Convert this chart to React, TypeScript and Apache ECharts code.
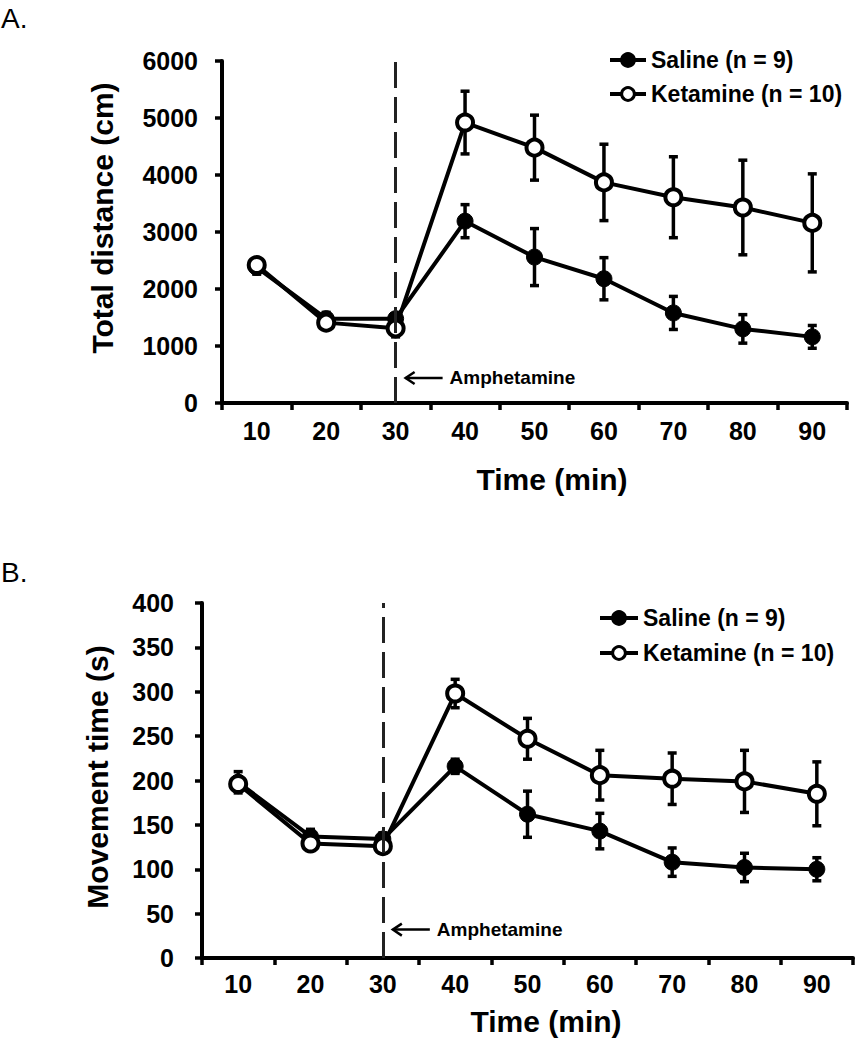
import React, { useEffect, useRef } from "react";
import * as echarts from "echarts";

const timeLabels = ["10", "20", "30", "40", "50", "60", "70", "80", "90"];

const salineDistance = [2380, 1480, 1480, 3190, 2560, 2180, 1580, 1300, 1160];
const salineDistanceErr = [120, 110, 80, 290, 500, 370, 290, 250, 200];
const ketamineDistance = [2420, 1410, 1310, 4920, 4480, 3870, 3610, 3430, 3160];
const ketamineDistanceErr = [90, 70, 150, 550, 570, 670, 710, 830, 860];

const salineMovement = [198, 137, 134, 216, 162, 143, 108, 102, 100];
const salineMovementErr = [12, 8, 7, 8, 26, 20, 16, 16, 13];
const ketamineMovement = [196, 129, 126, 298, 247, 206, 202, 199, 185];
const ketamineMovementErr = [8, 6, 8, 16, 23, 28, 29, 35, 36];

const SALINE = "Saline (n = 9)";
const KETAMINE = "Ketamine (n = 10)";
const FONT = '"Liberation Sans", Arial, Helvetica, sans-serif';

function errorSeries(name: string, grid: number, mean: number[], err: number[]) {
  return {
    type: "custom",
    name: name + " err",
    xAxisIndex: grid,
    yAxisIndex: grid,
    z: 1,
    silent: true,
    data: mean.map((m, i) => [i, m, err[i]]),
    encode: { x: 0, y: 1 },
    renderItem: (params: any, api: any) => {
      const i = api.value(0);
      const m = api.value(1);
      const e = api.value(2);
      const top = api.coord([i, m + e]);
      const bot = api.coord([i, m - e]);
      const cap = 4.5;
      const st = { stroke: "#000", lineWidth: 3.5 };
      return {
        type: "group",
        children: [
          { type: "line", shape: { x1: top[0], y1: top[1], x2: bot[0], y2: bot[1] }, style: st },
          { type: "line", shape: { x1: top[0] - cap, y1: top[1], x2: top[0] + cap, y2: top[1] }, style: st },
          { type: "line", shape: { x1: bot[0] - cap, y1: bot[1], x2: bot[0] + cap, y2: bot[1] }, style: st },
        ],
      };
    },
  };
}

function lineSeries(name: string, grid: number, data: number[], filled: boolean, withMark: boolean) {
  const s: any = {
    type: "line",
    name,
    xAxisIndex: grid,
    yAxisIndex: grid,
    data,
    z: 3,
    symbol: "circle",
    symbolSize: 16,
    lineStyle: { color: "#000", width: 4 },
    itemStyle: filled
      ? { color: "#000", borderColor: "#000", borderWidth: 1 }
      : { color: "#fff", borderColor: "#000", borderWidth: 4 },
  };
  if (withMark) {
    s.markLine = {
      silent: true,
      symbol: "none",
      label: { show: false },
      lineStyle: { type: [26, 9], color: "#222", width: 3 },
      data: [{ xAxis: "30" }],
    };
  }
  return s;
}

function xAxisFor(grid: number, margin: number) {
  return {
    type: "category",
    gridIndex: grid,
    data: timeLabels,
    boundaryGap: true,
    axisLine: { show: true, lineStyle: { color: "#000", width: 4 } },
    axisTick: { show: true, length: 7, lineStyle: { color: "#000", width: 3.5 } },
    axisLabel: { color: "#000", fontSize: 25, fontWeight: "bold", fontFamily: FONT, margin },
    splitLine: { show: false },
  };
}

function yAxisFor(grid: number, max: number, interval: number, margin: number) {
  return {
    type: "value",
    gridIndex: grid,
    min: 0,
    max,
    interval,
    axisLine: { show: true, lineStyle: { color: "#000", width: 4 } },
    axisTick: { show: true, length: 7, lineStyle: { color: "#000", width: 3.5 } },
    axisLabel: {
      color: "#000",
      fontSize: 25,
      fontWeight: "bold",
      fontFamily: FONT,
      margin,
      formatter: (v: number) => String(v),
    },
    splitLine: { show: false },
  };
}

function legendFor(left: number, top: number, itemWidth: number, gap: number) {
  return {
    orient: "vertical",
    left,
    top,
    itemWidth,
    itemHeight: 16,
    itemGap: gap,
    data: [SALINE, KETAMINE],
    selectedMode: false,
    lineStyle: { width: 4 },
    itemStyle: { borderWidth: 3 },
    textStyle: {
      color: "#000",
      fontSize: 23,
      fontWeight: "bold",
      fontFamily: FONT,
      lineHeight: 24,
    },
  };
}

function txt(text: string, x: number, y: number, size: number, weight: string, rotation = 0, align = "center") {
  return {
    type: "text",
    x,
    y,
    rotation,
    silent: true,
    style: {
      text,
      fill: "#000",
      fontSize: size,
      fontWeight: weight,
      fontFamily: FONT,
      align,
      verticalAlign: "middle",
    },
  };
}

export default function App() {
  const ref = useRef<HTMLDivElement>(null);
  useEffect(() => {
    document.body.style.margin = "0";
    if (!ref.current) return;
    const chart = echarts.init(ref.current, null, { renderer: "svg" });
    const option: any = {
      animation: false,
      backgroundColor: "#fff",
      textStyle: { fontFamily: FONT },
      grid: [
        { left: 222, top: 61, width: 625, height: 342 },
        { left: 202, top: 603, width: 651, height: 355 },
      ],
      xAxis: [xAxisFor(0, 15), xAxisFor(1, 13)],
      yAxis: [yAxisFor(0, 6000, 1000, 24), yAxisFor(1, 400, 50, 28)],
      legend: [legendFor(603, 43, 36, 10), legendFor(593, 601, 38, 11)],
      series: [
        errorSeries(SALINE, 0, salineDistance, salineDistanceErr),
        errorSeries(KETAMINE, 0, ketamineDistance, ketamineDistanceErr),
        lineSeries(SALINE, 0, salineDistance, true, true),
        lineSeries(KETAMINE, 0, ketamineDistance, false, false),
        errorSeries(SALINE, 1, salineMovement, salineMovementErr),
        errorSeries(KETAMINE, 1, ketamineMovement, ketamineMovementErr),
        lineSeries(SALINE, 1, salineMovement, true, true),
        lineSeries(KETAMINE, 1, ketamineMovement, false, false),
      ],
    };
    chart.setOption(option);

    const pA = chart.convertToPixel({ gridIndex: 0 } as any, [2, 440]) as number[];
    const pB = chart.convertToPixel({ gridIndex: 1 } as any, [2, 32]) as number[];
    const arrow = (p: number[]) => {
      const x0 = p[0] + 10;
      const y0 = p[1];
      return [
        {
          type: "line",
          silent: true,
          shape: { x1: x0, y1: y0, x2: x0 + 37, y2: y0 },
          style: { stroke: "#000", lineWidth: 2.5 },
        },
        {
          type: "polyline",
          silent: true,
          shape: { points: [[x0 + 9, y0 - 6], [x0, y0], [x0 + 9, y0 + 6]] },
          style: { stroke: "#000", lineWidth: 2.5, fill: "none" },
        },
        txt("Amphetamine", x0 + 44, y0, 19, "bold", 0, "left"),
      ];
    };

    chart.setOption({
      graphic: [
        txt("A.", 1, 18, 28, "normal", 0, "left"),
        txt("B.", 1, 572, 28, "normal", 0, "left"),
        txt("Total distance (cm)", 102, 218, 30, "bold", Math.PI / 2),
        txt("Movement time (s)", 97, 777, 30, "bold", Math.PI / 2),
        txt("Time (min)", 552, 479, 30, "bold"),
        txt("Time (min)", 546, 1021, 30, "bold"),
        ...arrow(pA),
        ...arrow(pB),
      ],
    });

    return () => chart.dispose();
  }, []);
  return <div ref={ref} style={{ width: 862, height: 1050 }} />;
}
